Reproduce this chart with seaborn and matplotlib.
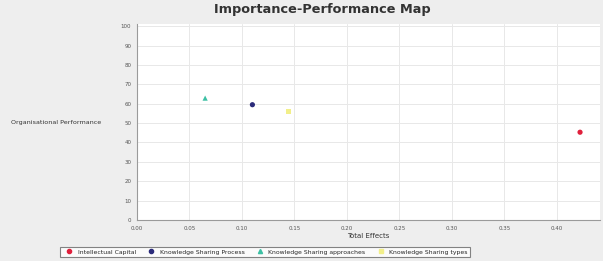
import matplotlib
matplotlib.use("Agg")
import matplotlib.pyplot as plt
import pandas as pd
import seaborn as sns

# IPMA values
constructs = [
    "Intellectual Capital",
    "Knowledge Sharing Process",
    "Knowledge Sharing approaches",
    "Knowledge Sharing types",
]
total_effects = [0.422, 0.110, 0.065, 0.144]
performance = [45.3, 59.5, 62.9, 56.0]

colores = ["#e0203c", "#2b2b7a", "#3cc0a4", "#f2ef8a"]
marcadores = ["o", "o", "^", "s"]

df = pd.DataFrame({"Construct": constructs, "Total Effects": total_effects,
                   "Performance": performance})

sns.set_theme(style="whitegrid")
plt.rcParams["font.family"] = ["DejaVu Sans"]

fig = plt.figure(figsize=(6.03, 2.61), dpi=100, facecolor="#eeeeee")
ax = fig.add_axes([0.227, 0.157, 0.768, 0.75])
ax.set_facecolor("white")

sns.scatterplot(
    data=df, x="Total Effects", y="Performance",
    hue="Construct", style="Construct",
    palette=colores, markers=marcadores,
    s=14, edgecolor="none", ax=ax, legend=False,
)

ax.set_xlim(0, 0.441)
ax.set_ylim(0, 101)
ax.set_xticks([0.00, 0.05, 0.10, 0.15, 0.20, 0.25, 0.30, 0.35, 0.40])
ax.set_xticklabels(["0.00", "0.05", "0.10", "0.15", "0.20", "0.25", "0.30", "0.35", "0.40"])
ax.set_yticks(range(0, 101, 10))
ax.tick_params(labelsize=4, length=2, pad=2, colors="#555555")
ax.grid(True, color="#e8e8e8", linewidth=0.7)
for lado in ["top", "right"]:
    ax.spines[lado].set_visible(False)
for lado in ["left", "bottom"]:
    ax.spines[lado].set_color("#9a9a9a")
    ax.spines[lado].set_linewidth(0.8)

ax.set_xlabel("Total Effects", fontsize=5, labelpad=2, color="#333333")
ax.set_ylabel("Organisational Performance", fontsize=4.6, rotation=0,
              ha="right", va="center", labelpad=14, color="#333333")

fig.text(0.535, 0.962, "Importance-Performance Map", ha="center", va="center",
         fontsize=9.3, fontweight="bold", color="#333333")

# legenda
handles = [
    plt.Line2D([], [], marker=m, linestyle="", color=c, markersize=3)
    for m, c in zip(marcadores, colores)
]
leg = fig.legend(handles, constructs, loc="center", bbox_to_anchor=(0.44, 0.035),
                 ncol=4, fontsize=4.4, frameon=True, handletextpad=0.4,
                 columnspacing=1.5, borderpad=0.4, fancybox=False)
leg.get_frame().set_edgecolor("#666666")
leg.get_frame().set_facecolor("white")
leg.get_frame().set_linewidth(0.8)

fig.savefig("out.png", dpi=100, facecolor=fig.get_facecolor())
